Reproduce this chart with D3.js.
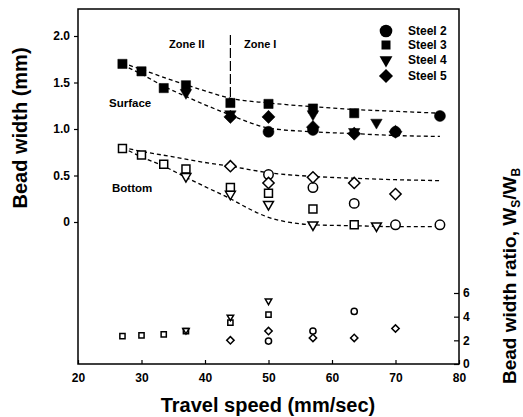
<!DOCTYPE html>
<html><head><meta charset="utf-8">
<script src="https://cdn.jsdelivr.net/npm/d3@7/dist/d3.min.js"></script>
<style>
body{margin:0;background:#fff;}
text{font-family:"Liberation Sans",Arial,sans-serif;font-weight:bold;fill:#000;}
</style></head>
<body><svg id="c" width="523" height="417"></svg>
<script>
// ---- data ----
const xTicks = [20,30,40,50,60,70,80];
const yLeftTicks = [0,0.5,1.0,1.5,2.0];
const yLeftLabels = ["0","0.5","1.0","1.5","2.0"];
const yRightTicks = [0,2,4,6];
const legendLabels = ["Steel 2","Steel 3","Steel 4","Steel 5"];

// surface bead width (filled markers)
const steel2Surface = [[50,0.97],[57,0.99],[70,0.97],[77,1.14]];
const steel3Surface = [[27,1.70],[30,1.62],[33.5,1.44],[37,1.47],[44,1.28],[50,1.27],[57,1.22],[63.5,1.17]];
const steel4Surface = [[37,1.39],[44,1.16],[57,1.16],[63.5,0.97],[67,1.07]];
const steel5Surface = [[44,1.13],[50,1.13],[57,1.02],[63.5,0.95],[70,0.97]];
// bottom bead width (open markers)
const steel2Bottom = [[50,0.51],[57,0.37],[63.5,0.20],[70,-0.03],[77,-0.03]];
const steel3Bottom = [[27,0.79],[30,0.72],[33.5,0.62],[37,0.57],[44,0.37],[50,0.31],[57,0.14],[63.5,-0.03]];
const steel4Bottom = [[37,0.49],[44,0.30],[50,0.19],[57,-0.03],[67,-0.04]];
const steel5Bottom = [[44,0.60],[50,0.42],[57,0.48],[63.5,0.42],[70,0.30]];
// bead width ratio (small open markers, right axis)
const steel2Ratio = [[50,1.94],[57,2.78],[63.5,4.44]];
const steel3Ratio = [[27,2.35],[30,2.42],[33.5,2.5],[37,2.78],[44,3.5],[50,4.17]];
const steel4Ratio = [[37,2.85],[44,3.97],[50,5.33]];
const steel5Ratio = [[44,2.0],[50,2.78],[57,2.2],[63.5,2.2],[70,3.0]];
// dashed trend curves
const surfaceUpper = [[27,1.71],[30,1.64],[35,1.52],[40,1.41],[44,1.33],[50,1.28],[57,1.24],[63.5,1.21],[70,1.19],[77,1.17]];
const surfaceLower = [[27,1.69],[30,1.59],[33.5,1.46],[37,1.35],[40,1.26],[44,1.15],[47,1.07],[50,1.01],[57,0.97],[63.5,0.95],[70,0.93],[77,0.92]];
const bottomUpper = [[27,0.80],[30,0.76],[35,0.70],[40,0.64],[44,0.60],[50,0.53],[57,0.49],[63.5,0.47],[70,0.455],[77,0.445]];
const bottomLower = [[27,0.80],[30,0.70],[33.5,0.60],[37,0.48],[40,0.38],[44,0.25],[47,0.14],[50,0.05],[53,0.0],[57,-0.03],[63.5,-0.04],[70,-0.05],[77,-0.05]];
const zoneBoundary = 44;

// ---- layout ----
const L=78, R=459, T=9, B=364;
const svg = d3.select("#c");
const x = d3.scaleLinear().domain([20,80]).range([L,R]);
const y = d3.scaleLinear().domain([0,2]).range([222,36]);
const y2 = d3.scaleLinear().domain([0,6]).range([B,293]);

// frame
svg.append("path").attr("d",`M${L},${B}V${T}H${R}V${B}Z`).attr("fill","none").attr("stroke","#000").attr("stroke-width",1.5);

// axes
const gx = svg.append("g").attr("transform",`translate(0,${B})`)
  .call(d3.axisBottom(x).tickValues(xTicks).tickSize(-4).tickPadding(9).tickFormat(d3.format("d")));
const gy = svg.append("g").attr("transform",`translate(${L},0)`)
  .call(d3.axisLeft(y).tickValues(yLeftTicks).tickSize(4).tickPadding(4).tickFormat((d,i)=>yLeftLabels[i]));
const gy2 = svg.append("g").attr("transform",`translate(${R},0)`)
  .call(d3.axisRight(y2).tickValues(yRightTicks).tickSize(-5).tickPadding(4).tickFormat(d3.format("d")));
[gx,gy,gy2].forEach(g=>{
  g.select(".domain").remove();
  g.selectAll("line").attr("stroke","#000").attr("stroke-width",1.2);
  g.selectAll("text").style("font-size","12px").style("font-weight","bold").style("font-family","Liberation Sans, Arial, sans-serif");
});

// curves
const line = d3.line().x(d=>x(d[0])).y(d=>y(d[1])).curve(d3.curveMonotoneX);
[surfaceUpper,surfaceLower,bottomUpper,bottomLower].forEach(c=>{
  svg.append("path").attr("d",line(c)).attr("fill","none").attr("stroke","#000")
    .attr("stroke-width",1.3).attr("stroke-dasharray","4,3");
});

// zone line
svg.append("line").attr("x1",x(zoneBoundary)).attr("x2",x(zoneBoundary)).attr("y1",35).attr("y2",100)
  .attr("stroke","#000").attr("stroke-width",1.2).attr("stroke-dasharray","10,3");

// markers
function sym(kind, size){
  if(kind===0) return {d:d3.symbol(d3.symbolCircle,size)(), rot:0};
  if(kind===1) return {d:d3.symbol(d3.symbolSquare,size*0.9)(), rot:0};
  if(kind===2) return {d:d3.symbol(d3.symbolTriangle,size*0.6)(), rot:180};
  return {d:d3.symbol(d3.symbolSquare,size*0.9)(), rot:45};
}
function drawSet(data, kind, scale, filled, size){
  const s = sym(kind,size);
  svg.append("g").selectAll("path").data(data).join("path")
    .attr("d",s.d)
    .attr("transform",d=>`translate(${x(d[0])},${scale(d[1])}) rotate(${s.rot})`)
    .attr("fill",filled?"#000":"#fff").attr("stroke","#000").attr("stroke-width",filled?0.5:1.5);
}
const surf=[steel2Surface,steel3Surface,steel4Surface,steel5Surface];
const bot=[steel2Bottom,steel3Bottom,steel4Bottom,steel5Bottom];
const rat=[steel2Ratio,steel3Ratio,steel4Ratio,steel5Ratio];
bot.forEach((d,i)=>drawSet(d,i,y,false,70));
surf.forEach((d,i)=>drawSet(d,i,y,true,95));
rat.forEach((d,i)=>drawSet(d,i,y2,false,30));

// legend
legendLabels.forEach((t,i)=>{
  const ly = [31,45,60,76][i];
  const s = sym(i,[125,90,120,110][i]);
  svg.append("path").attr("d",s.d).attr("transform",`translate(386,${ly}) rotate(${s.rot})`).attr("fill","#000");
  svg.append("text").attr("x",408).attr("y",ly+4).style("font-size","12px").text(t);
});

// annotations
svg.append("text").attr("x",169).attr("y",48).style("font-size","11px").text("Zone II");
svg.append("text").attr("x",244).attr("y",48).style("font-size","11px").text("Zone I");
svg.append("text").attr("x",109).attr("y",107).style("font-size","11.5px").text("Surface");
svg.append("text").attr("x",112).attr("y",192).style("font-size","11.5px").text("Bottom");

// titles
svg.append("text").attr("x",268).attr("y",412).attr("text-anchor","middle").style("font-size","20px").text("Travel speed (mm/sec)");
svg.append("text").attr("transform","translate(27,128) rotate(-90)").attr("text-anchor","middle").style("font-size","20px").text("Bead width (mm)");
const rt = svg.append("text").attr("transform","translate(516,276) rotate(-90)").attr("text-anchor","middle").style("font-size","19px");
rt.append("tspan").text("Bead width ratio, W");
rt.append("tspan").attr("dy",4).style("font-size","12px").text("S");
rt.append("tspan").attr("dy",-4).text("/W");
rt.append("tspan").attr("dy",4).style("font-size","12px").text("B");
</script></body></html>
